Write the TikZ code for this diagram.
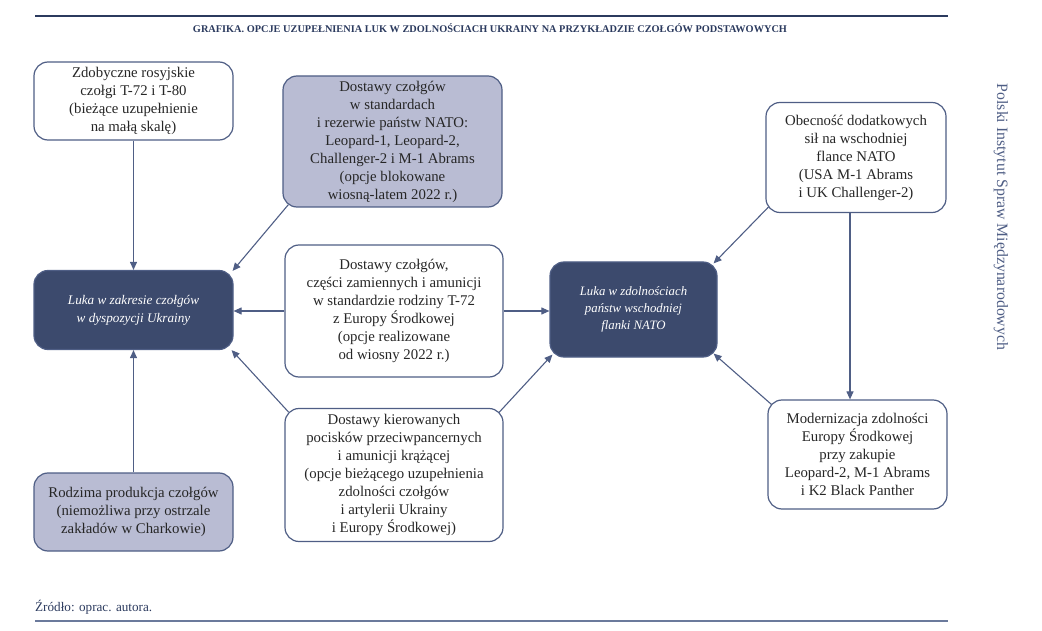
\documentclass[tikz,border=0pt]{standalone}
\usepackage{fontspec}
\setmainfont{Liberation Serif}
\usetikzlibrary{arrows.meta}
\definecolor{navy}{HTML}{3C4A6D}
\definecolor{edge}{HTML}{4F5E85}
\definecolor{grayfill}{HTML}{B9BCD3}
\definecolor{txt}{HTML}{262626}
\definecolor{titlec}{HTML}{2B3A5E}
\definecolor{rulebot}{HTML}{6B7A9C}
\begin{document}
\begin{tikzpicture}[x=1pt,y=-1pt,
  box/.style={draw=edge, line width=1.2pt, rounded corners=14pt, inner sep=0pt, align=center, text=txt, font=\fontsize{14.8}{18}\selectfont},
  wbox/.style={box, fill=white},
  gbox/.style={box, fill=grayfill},
  dbox/.style={box, fill=navy, text=white, font=\itshape\fontsize{13.2}{18}\selectfont},
  arr/.style={draw=edge, line width=1.1pt, -{Triangle[length=8pt,width=7pt]}},
]
\useasboundingbox (0,0) rectangle (1042,631);
% rules and captions
\coordinate (tl) at (35,16); \coordinate (tr) at (948,16);
\draw[line width=2pt, titlec] (tl) -- (tr);
\coordinate (bl) at (35,621); \coordinate (br) at (948,621);
\draw[line width=2pt, rulebot] (bl) -- (br);
\node[text=titlec, inner sep=0pt] (title) at (490,28) {\resizebox{594pt}{!}{\bfseries\fontsize{10}{12}\selectfont GRAFIKA. OPCJE UZUPEŁNIENIA LUK W ZDOLNOŚCIACH UKRAINY NA PRZYKŁADZIE CZOŁGÓW PODSTAWOWYCH}};
\node[text=titlec, inner sep=0pt, anchor=west] (src) at (35,607) {\resizebox{117pt}{!}{\fontsize{10}{12}\selectfont Źródło: oprac. autora.}};
\node[text=edge, inner sep=0pt, rotate=-90, font=\fontsize{15.8}{18}\selectfont] (pism) at (1001,217) {Polski Instytut Spraw Międzynarodowych};
% boxes
\node[wbox, minimum width=199pt, minimum height=78pt] (zdob) at (133.5,101) {Zdobyczne rosyjskie\\czołgi T-72 i T-80\\(bieżące uzupełnienie\\na małą skalę)};
\node[gbox, minimum width=219pt, minimum height=131pt] (nato) at (392.5,141.5) {Dostawy czołgów\\w standardach\\i rezerwie państw NATO:\\Leopard-1, Leopard-2,\\Challenger-2 i M-1 Abrams\\(opcje blokowane\\wiosną-latem 2022 r.)};
\node[wbox, minimum width=218pt, minimum height=132pt] (tsd) at (394,311) {Dostawy czołgów,\\części zamiennych i amunicji\\w standardzie rodziny T-72\\z Europy Środkowej\\(opcje realizowane\\od wiosny 2022 r.)};
\node[dbox, minimum width=199pt, minimum height=79pt] (lukaua) at (133.5,310) {Luka w zakresie czołgów\\w dyspozycji Ukrainy};
\node[gbox, minimum width=199pt, minimum height=78pt] (rodz) at (133.5,512) {Rodzima produkcja czołgów\\(niemożliwa przy ostrzale\\zakładów w Charkowie)};
\node[wbox, minimum width=218pt, minimum height=133pt] (kier) at (394,475) {Dostawy kierowanych\\pocisków przeciwpancernych\\i amunicji krążącej\\(opcje bieżącego uzupełnienia\\zdolności czołgów\\i artylerii Ukrainy\\i Europy Środkowej)};
\node[dbox, font=\itshape\fontsize{12.8}{16.7}\selectfont, minimum width=167pt, minimum height=95pt] (lukanato) at (633.5,309.5) {Luka w zdolnościach\\państw wschodniej\\flanki NATO};
\node[wbox, minimum width=180pt, minimum height=110pt] (obec) at (856,157.5) {Obecność dodatkowych\\sił na wschodniej\\flance NATO\\(USA M-1 Abrams\\i UK Challenger-2)};
\node[wbox, minimum width=179pt, minimum height=109pt] (modern) at (857.5,454.5) {Modernizacja zdolności\\Europy Środkowej\\przy zakupie\\Leopard-2, M-1 Abrams\\i K2 Black Panther};
% connectors
\draw[arr] (zdob.south) -- (lukaua.north);
\draw[arr] ([xshift=6pt,yshift=3pt]nato.south west) -- ([xshift=-1pt,yshift=-1pt]lukaua.north east);
\draw[arr] (tsd.west) -- (tsd.west -| lukaua.east);
\draw[arr] (tsd.east) -- (tsd.east -| lukanato.west);
\draw[arr] ([xshift=4pt,yshift=-4pt]kier.north west) -- ([xshift=-2pt]lukaua.south east);
\draw[arr] ([xshift=-5pt,yshift=-5pt]kier.north east) -- ([xshift=3pt,yshift=3pt]lukanato.south west);
\draw[arr] (rodz.north) -- (lukaua.south);
\draw[arr] ([xshift=3pt,yshift=6pt]obec.south west) -- ([xshift=-4pt,yshift=-2pt]lukanato.north east);
\draw[arr] ([xshift=-6pt]obec.south) -- ([xshift=-6pt]obec.south |- modern.north);
\draw[arr] ([xshift=4pt,yshift=-5pt]modern.north west) -- ([xshift=-4pt,yshift=4pt]lukanato.south east);
\end{tikzpicture}
\end{document}
